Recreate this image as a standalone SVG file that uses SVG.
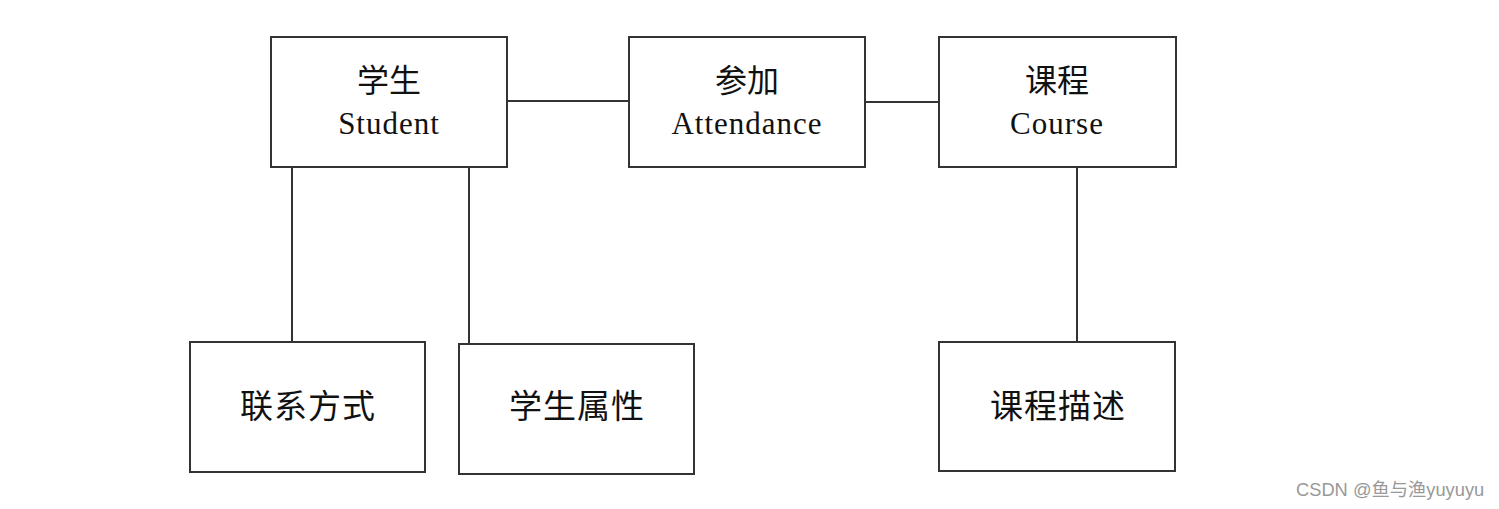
<svg xmlns="http://www.w3.org/2000/svg" width="1499" height="509" viewBox="0 0 1499 509">
<style>
.box{fill:#fff;stroke:#333;stroke-width:2}
.ln{stroke:#333;stroke-width:2;fill:none}
.cn{font-family:"Noto Sans CJK SC","Liberation Serif",serif;font-size:32px;fill:#111;text-anchor:middle}
.cb{font-family:"Noto Sans CJK SC","Liberation Serif",serif;font-size:33px;fill:#111;text-anchor:middle;letter-spacing:1px}
.en{font-family:"Liberation Serif","Noto Sans CJK SC",serif;font-size:31px;fill:#111;text-anchor:middle;letter-spacing:1px}
.wm{font-family:"Liberation Sans","Noto Sans CJK SC",sans-serif;font-size:18.3px;fill:#999}
</style>
<rect width="1499" height="509" fill="#fff"/>
<g id="connectors">
<line class="ln" x1="507" y1="101" x2="629" y2="101"/>
<line class="ln" x1="865" y1="102" x2="939" y2="102"/>
<line class="ln" x1="292" y1="167" x2="292" y2="342"/>
<line class="ln" x1="469" y1="167" x2="469" y2="344"/>
<line class="ln" x1="1077" y1="167" x2="1077" y2="342"/>
</g>
<g id="student">
<rect class="box" x="271" y="37" width="236" height="130"/>
<text class="cn" x="389" y="92">学生</text>
<text class="en" x="389" y="134">Student</text>
</g>
<g id="attendance">
<rect class="box" x="629" y="37" width="236" height="130"/>
<text class="cn" x="747" y="92">参加</text>
<text class="en" x="747" y="134">Attendance</text>
</g>
<g id="course">
<rect class="box" x="939" y="37" width="237" height="130"/>
<text class="cn" x="1057" y="92">课程</text>
<text class="en" x="1057" y="134">Course</text>
</g>
<g id="contact">
<rect class="box" x="190" y="342" width="235" height="130"/>
<text class="cb" x="308" y="418">联系方式</text>
</g>
<g id="studentattr">
<rect class="box" x="459" y="344" width="235" height="130"/>
<text class="cb" x="577" y="418">学生属性</text>
</g>
<g id="coursedesc">
<rect class="box" x="939" y="342" width="236" height="129"/>
<text class="cb" x="1058" y="418">课程描述</text>
</g>
<text class="wm" x="1296" y="496">CSDN @鱼与渔yuyuyu</text>
</svg>
